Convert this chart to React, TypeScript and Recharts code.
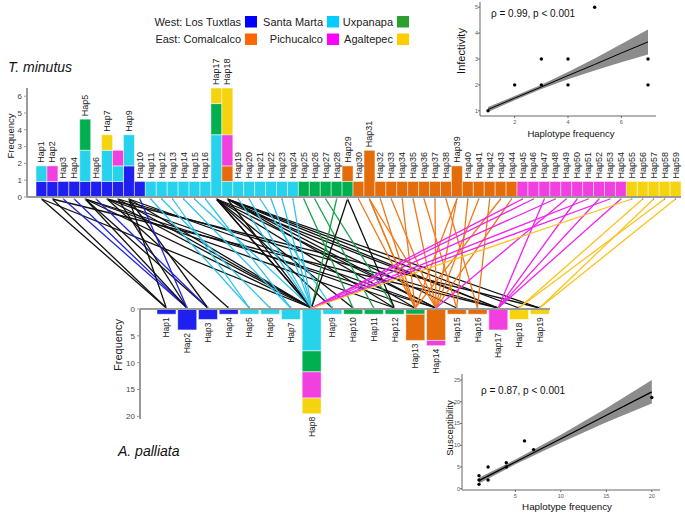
import React from 'react';
import { BarChart, Bar, XAxis, YAxis, LabelList, LineChart, Line, ComposedChart, Area, Scatter } from 'recharts';

// populations (stack order)
const popKeys = ['tux', 'sma', 'uxp', 'com', 'pic', 'aga'];
const barColors: Record<string, string> = { tux: '#1f1ff0', sma: '#27d3ec', uxp: '#00b050', com: '#e46c0a', pic: '#f23fe0', aga: '#f5d40f' };
const lineColors: Record<string, string> = { tux: '#2222dd', sma: '#2ec4ec', uxp: '#16a34a', com: '#f07818', pic: '#f022ee', aga: '#f8c41c', mixed: '#111111' };
const legendColors: Record<string, string> = { tux: '#0000ff', sma: '#00ccff', uxp: '#2ca02c', com: '#ff6600', pic: '#ff00ff', aga: '#ffcc00' };
const legendWest = [['West: Los Tuxtlas', 'tux'], ['Santa Marta', 'sma'], ['Uxpanapa', 'uxp']];
const legendEast = [['East: Comalcalco', 'com'], ['Pichucalco', 'pic'], ['Agaltepec', 'aga']];

// T. minutus haplotypes (59)
const topNames = Array.from({ length: 59 }, (_, i) => `Hap${i + 1}`);
const topTux = [1,1,1,1,1,1,1,1,2,1, 0,0,0,0,0,0,0,0,0,0, 0,0,0,0,0,0,0,0,0,0, 0,0,0,0,0,0,0,0,0,0, 0,0,0,0,0,0,0,0,0,0, 0,0,0,0,0,0,0,0,0];
const topSma = [1,0,0,0,2,0,2,1,2,0, 1,1,1,1,1,1,4,1,1,1, 1,1,1,1,0,0,0,0,0,0, 0,0,0,0,0,0,0,0,0,0, 0,0,0,0,0,0,0,0,0,0, 0,0,0,0,0,0,0,0,0];
const topUxp = [0,0,0,0,2,0,0,0,0,0, 0,0,0,0,0,0,2,0,0,0, 0,0,0,0,1,1,1,1,1,0, 0,0,0,0,0,0,0,0,0,0, 0,0,0,0,0,0,0,0,0,0, 0,0,0,0,0,0,0,0,0];
const topCom = [0,0,0,0,0,0,0,0,0,0, 0,0,0,0,0,0,0,1,0,0, 0,0,0,0,0,0,0,0,1,1, 3,1,1,1,1,1,1,1,2,1, 1,1,1,1,0,0,0,0,0,0, 0,0,0,0,0,0,0,0,0];
const topPic = [0,1,0,0,0,0,0,1,0,0, 0,0,0,0,0,0,0,2,0,0, 0,0,0,0,0,0,0,0,0,0, 0,0,0,0,0,0,0,0,0,0, 0,0,0,0,1,1,1,1,1,1, 1,1,1,1,0,0,0,0,0];
const topAga = [0,0,0,0,0,0,1,0,0,0, 0,0,0,0,0,0,1,3,0,0, 0,0,0,0,0,0,0,0,0,0, 0,0,0,0,0,0,0,0,0,0, 0,0,0,0,0,0,0,0,0,0, 0,0,0,0,1,1,1,1,1];
const topTicks = [0, 1, 2, 3, 4, 5, 6];
const topHiddenLabels = ['Hap8'];

// A. palliata haplotypes (19)
const botNames = Array.from({ length: 19 }, (_, i) => `Hap${i + 1}`);
const botTux = [1,4,2,1,0,0,0,0,0,0,0,0,0,0,0,0,0,0,0];
const botSma = [0,0,0,0,1,1,2,8,1,0,0,0,0,0,0,0,0,0,0];
const botUxp = [0,0,0,0,0,0,0,4,0,1,1,1,1,0,0,0,0,0,0];
const botCom = [0,0,0,0,0,0,0,0,0,0,0,0,5,6,1,1,0,0,0];
const botPic = [0,0,0,0,0,0,0,5,0,0,0,0,0,1,0,0,4,0,0];
const botAga = [0,0,0,0,0,0,0,3,0,0,0,0,0,0,0,0,0,2,1];
const botTicks = [0, 5, 10, 15, 20];

// links: parasite haplotype -> host haplotype
const linkFrom = [1,1, 2,2, 3, 4, 5,5,5,5,5, 6, 7,7,7,7, 8,8,8, 9,9,9,9, 10,
  11, 12, 13, 14, 15, 16, 17,17,17,17,17,17,17, 18,18,18,18,18,18,18,
  19, 20, 21, 22, 23, 24, 25, 26, 27, 28, 29,29, 30, 31,31,31, 32, 33, 34, 35, 36, 37, 38, 39,39,
  40, 41, 42, 43, 44, 45, 46, 47, 48, 49, 50, 51, 52, 53, 54, 55, 56, 57, 58, 59];
const linkTo = [1,8, 1,17, 2, 2, 2,3,8,12,14, 3, 4,8,13,19, 2,8,17, 1,3,8,14, 2,
  5, 6, 5, 7, 8, 7, 8,8,9,10,12,14,17, 8,13,14,15,17,18,19,
  8, 8, 9, 8, 8, 8, 10, 11, 12, 8, 8,12, 13, 13,14,13, 13, 14, 13, 14, 15, 14, 16, 13,14,
  15, 14, 16, 13, 14, 8, 8, 17, 8, 14, 17, 8, 17, 8, 17, 8, 18, 19, 18, 19];

// inset 1: infectivity
const inf1x = [1, 2, 3, 3, 4, 4, 5, 7, 7];
const inf1y = [1, 2, 2, 3, 2, 3, 5, 2, 3];
const fit1x = [1, 2, 3, 4, 5, 6, 7];
const fit1y = [1.05, 1.49, 1.92, 2.36, 2.79, 3.23, 3.66];
const fit1lo = [0.95, 1.41, 1.84, 2.22, 2.56, 2.87, 3.17];
const fit1hi = [1.15, 1.57, 2.01, 2.5, 3.02, 3.58, 4.14];

// inset 2: susceptibility
const sus2x = [1, 1, 1, 2, 2, 4, 4, 6, 7, 20];
const sus2y = [1, 2, 3, 2, 5, 5, 6, 11, 9, 21];
const fit2x = [1, 5, 10, 15, 20];
const fit2y = [1.85, 6.15, 11.5, 16.9, 22.3];
const fit2lo = [1.2, 5.6, 10.6, 15.3, 19.6];
const fit2hi = [2.5, 6.7, 12.4, 18.5, 25.0];

// layout
const TOP_L = 36, TOP_R = 681, BOT_L = 156, BOT_R = 550;
const TOP_TS = 16.8 / 15.57; // axis tick spacing vs bar unit
const BOT_TS = 5.37 / 5.24;
const font = '"Liberation Sans", Arial, sans-serif';

const topSeries = [topTux, topSma, topUxp, topCom, topPic, topAga];
const botSeries = [botTux, botSma, botUxp, botCom, botPic, botAga];
const topData = topNames.map((name, i) => {
  const r: any = { name };
  popKeys.forEach((k, j) => (r[k] = topSeries[j][i]));
  return r;
});
const botData = botNames.map((name, i) => {
  const r: any = { name };
  popKeys.forEach((k, j) => (r[k] = botSeries[j][i]));
  return r;
});

const lastKey = (row: any) => {
  let key = null;
  popKeys.forEach((k) => { if (row[k] > 0) key = k; });
  return key;
};
const linkColor = (hap: number) => {
  const row = topData[hap - 1];
  const ks = popKeys.filter((k) => row[k] > 0);
  return ks.length === 1 ? lineColors[ks[0]] : lineColors.mixed;
};
const topUnit = (TOP_R - TOP_L) / topNames.length;
const botUnit = (BOT_R - BOT_L) / botNames.length;
const botInTop = (j: number) => (BOT_L + (j - 0.5) * botUnit - TOP_L) / topUnit;

const links = linkFrom.map((f, i) => ({
  color: linkColor(f),
  data: [{ x: f - 0.5, y: 1 }, { x: botInTop(linkTo[i]), y: 0 }],
}));

const topLabel = (key: string) => (p: any) => {
  const row = topData.find((r) => r.name === p.value);
  if (!row || lastKey(row) !== key || topHiddenLabels.includes(row.name)) return null;
  const cx = p.x + p.width / 2;
  const ty = Math.min(p.y, p.y + p.height) - 3;
  return (
    <text x={cx} y={ty} transform={`rotate(-90 ${cx} ${ty})`} textAnchor="start" dominantBaseline="central" fontSize={9} fill="#222" fontFamily={font}>
      {row.name}
    </text>
  );
};
const botLabel = (key: string) => (p: any) => {
  const row = botData.find((r) => r.name === p.value);
  if (!row || lastKey(row) !== key) return null;
  const cx = p.x + p.width / 2;
  const ty = Math.max(p.y, p.y + p.height) + 3;
  return (
    <text x={cx} y={ty} transform={`rotate(-90 ${cx} ${ty})`} textAnchor="end" dominantBaseline="central" fontSize={8.5} fill="#222" fontFamily={font}>
      {row.name}
    </text>
  );
};

const axisGray = { stroke: '#9a9a9a', strokeWidth: 2 };
const dot = (p: any) => <circle cx={p.cx} cy={p.cy} r={1.7} fill="#000" />;

const fit1 = fit1x.map((x, i) => ({ x, fit: fit1y[i], band: [fit1lo[i], fit1hi[i]] }));
const pts1 = inf1x.map((x, i) => ({ x, y: inf1y[i] }));
const fit2 = fit2x.map((x, i) => ({ x, fit: fit2y[i], band: [fit2lo[i], fit2hi[i]] }));
const pts2 = sus2x.map((x, i) => ({ x, y: sus2y[i] }));

const insetAxis = { stroke: '#666', strokeWidth: 1 };
const insetTick = { fontSize: 5.5, fill: '#555', fontFamily: font };
const insetYTick = { fontSize: 5.5, fill: '#555', fontFamily: font, dx: 2 };

export default function App() {
  return (
    <div style={{ position: 'absolute', left: 0, top: 0, width: 685, height: 513, background: '#fff', fontFamily: font }}>
      {/* links */}
      <div style={{ position: 'absolute', left: 0, top: 0 }}>
        <LineChart width={685} height={320} margin={{ top: 199, right: 685 - TOP_R, left: TOP_L, bottom: 12 }}>
          <XAxis type="number" dataKey="x" domain={[0, topNames.length]} hide allowDataOverflow />
          <YAxis type="number" domain={[0, 1]} hide />
          {links.map((l, i) => (
            <Line key={i} data={l.data} dataKey="y" type="linear" stroke={l.color} strokeWidth={1.3} dot={false} isAnimationActive={false} />
          ))}
        </LineChart>
      </div>

      {/* T. minutus */}
      <div style={{ position: 'absolute', left: 0, top: 0 }}>
        <BarChart width={685} height={203} data={topData} margin={{ top: 88, right: 685 - TOP_R, left: 0, bottom: 0 }} barCategoryGap={0}>
          <XAxis dataKey="name" height={6} interval={0} tickSize={3} tickFormatter={() => ''} padding={{ left: TOP_L - 27, right: 0 }} axisLine={axisGray} tickLine={{ stroke: '#9a9a9a' }} />
          <YAxis width={27} domain={[0, 7]} ticks={topTicks.map((t) => t * TOP_TS)} interval={0} tickFormatter={(v: number) => String(Math.round(v / TOP_TS))} tickSize={3} axisLine={axisGray} tickLine={{ stroke: '#9a9a9a' }} tick={{ fontSize: 8, fill: '#444', fontFamily: font }} />
          {popKeys.map((k) => (
            <Bar key={k} dataKey={k} stackId="a" fill={barColors[k]} stroke="#fff" strokeWidth={0.5} isAnimationActive={false}>
              <LabelList dataKey="name" content={topLabel(k)} />
            </Bar>
          ))}
        </BarChart>
      </div>

      {/* A. palliata */}
      <div style={{ position: 'absolute', left: 0, top: 290 }}>
        <BarChart width={560} height={170} data={botData} margin={{ top: 15, right: 560 - BOT_R, left: 0, bottom: 41 }} barCategoryGap={1}>
          <XAxis dataKey="name" orientation="top" height={4} interval={0} tickSize={3} tickFormatter={() => ''} padding={{ left: BOT_L - 140, right: 0 }} axisLine={axisGray} tickLine={{ stroke: '#9a9a9a' }} />
          <YAxis width={140} reversed domain={[0, 21]} ticks={botTicks.map((t) => t * BOT_TS)} interval={0} tickFormatter={(v: number) => String(Math.round(v / BOT_TS))} tickSize={3} axisLine={axisGray} tickLine={{ stroke: '#9a9a9a' }} tick={{ fontSize: 8, fill: '#444', fontFamily: font }} />
          {popKeys.map((k) => (
            <Bar key={k} dataKey={k} stackId="a" fill={barColors[k]} stroke="#fff" strokeWidth={0.5} isAnimationActive={false}>
              <LabelList dataKey="name" content={botLabel(k)} />
            </Bar>
          ))}
        </BarChart>
      </div>

      {/* inset: infectivity */}
      <div style={{ position: 'absolute', left: 440, top: 0 }}>
        <ComposedChart width={220} height={145} data={fit1} margin={{ top: 2, right: 4, left: 26, bottom: 9 }}>
          <XAxis type="number" dataKey="x" domain={[0.7, 7.3]} ticks={[2, 4, 6]} height={20} allowDataOverflow axisLine={insetAxis} tickLine={insetAxis} tickSize={2} tick={insetTick} />
          <YAxis type="number" domain={[0.8, 5.2]} ticks={[1, 2, 3, 4, 5]} width={14} allowDataOverflow axisLine={insetAxis} tickLine={insetAxis} tickSize={2} tick={insetYTick} />
          <Area dataKey="band" type="linear" stroke="none" fill="#8c8c8c" fillOpacity={1} isAnimationActive={false} />
          <Line dataKey="fit" type="linear" stroke="#000" strokeWidth={1} dot={false} isAnimationActive={false} />
          <Scatter data={pts1} dataKey="y" shape={dot} isAnimationActive={false} />
        </ComposedChart>
      </div>

      {/* inset: susceptibility */}
      <div style={{ position: 'absolute', left: 420, top: 360 }}>
        <ComposedChart width={245} height={153} data={fit2} margin={{ top: 14, right: 5, left: 28, bottom: 9 }}>
          <XAxis type="number" dataKey="x" domain={[-0.87, 20.9]} ticks={[5, 10, 15, 20]} height={14} allowDataOverflow axisLine={insetAxis} tickLine={insetAxis} tickSize={2} tick={insetTick} />
          <YAxis type="number" domain={[-0.3, 26.4]} ticks={[0, 5, 10, 15, 20, 25]} width={14} allowDataOverflow axisLine={insetAxis} tickLine={insetAxis} tickSize={2} tick={insetYTick} />
          <Area dataKey="band" type="linear" stroke="none" fill="#8c8c8c" fillOpacity={1} isAnimationActive={false} />
          <Line dataKey="fit" type="linear" stroke="#000" strokeWidth={1.3} dot={false} isAnimationActive={false} />
          <Scatter data={pts2} dataKey="y" shape={dot} isAnimationActive={false} />
        </ComposedChart>
      </div>

      {/* titles and legend */}
      <svg width={685} height={513} style={{ position: 'absolute', left: 0, top: 0, pointerEvents: 'none' }} fontFamily={font}>
        {[legendWest, legendEast].map((row, r) =>
          row.map(([label, k], i) => {
            const sx = [245, 327, 397][i];
            const cy = r === 0 ? 21.7 : 39.2;
            return (
              <g key={`${r}-${i}`}>
                <text x={sx - 4} y={cy} textAnchor="end" dominantBaseline="central" fontSize={11} fill="#222">{label}</text>
                <rect x={sx} y={cy - 5.7} width={12} height={11.5} fill={legendColors[k]} />
              </g>
            );
          })
        )}
        <text x={8} y={72} fontSize={14} fontStyle="italic" fill="#111">T. minutus</text>
        <text x={118} y={456} fontSize={14} fontStyle="italic" fill="#111">A. palliata</text>
        <text x={0} y={0} transform="translate(10 136) rotate(-90)" textAnchor="middle" dominantBaseline="central" fontSize={9.5} fill="#222">Frequency</text>
        <text x={0} y={0} transform="translate(118 345) rotate(-90)" textAnchor="middle" dominantBaseline="central" fontSize={11} fill="#222">Frequency</text>
        <text x={491} y={13} dominantBaseline="central" fontSize={10} fill="#111">ρ = 0.99, p &lt; 0.001</text>
        <text x={0} y={0} transform="translate(461 51) rotate(-90)" textAnchor="middle" dominantBaseline="central" fontSize={11} fill="#111">Infectivity</text>
        <text x={571} y={133} textAnchor="middle" dominantBaseline="central" fontSize={9.5} fill="#111">Haplotype frequency</text>
        <text x={481} y={390} dominantBaseline="central" fontSize={10} fill="#111">ρ = 0.87, p &lt; 0.001</text>
        <text x={0} y={0} transform="translate(449 428) rotate(-90)" textAnchor="middle" dominantBaseline="central" fontSize={9.5} fill="#111">Susceptibility</text>
        <text x={567} y={506} textAnchor="middle" dominantBaseline="central" fontSize={9.8} fill="#111">Haplotype frequency</text>
      </svg>
    </div>
  );
}
